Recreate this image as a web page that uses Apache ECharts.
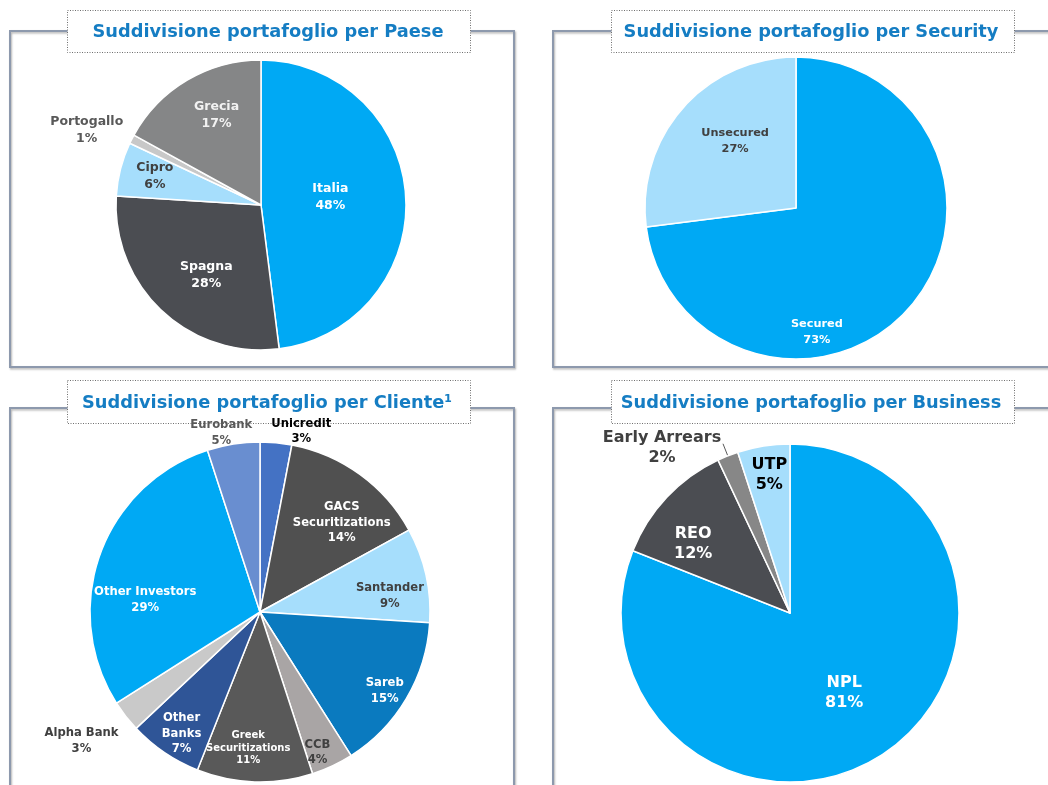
<!DOCTYPE html>
<html>
<head>
<meta charset="utf-8">
<script src="https://cdn.jsdelivr.net/npm/echarts@6/dist/echarts.min.js"></script>
<style>
html,body{margin:0;padding:0;background:#ffffff;}
#chart{width:1048px;height:785px;}
</style>
</head>
<body>
<div id="chart"></div>
<script>
// ---------- DATA ----------
const panelTitles = [
  'Suddivisione portafoglio per Paese',
  'Suddivisione portafoglio per Security',
  'Suddivisione portafoglio per Cliente\u00B9',
  'Suddivisione portafoglio per Business'
];
const paeseNames = ['Italia', 'Spagna', 'Cipro', 'Portogallo', 'Grecia'];
const paeseValues = [48, 28, 6, 1, 17];

const securityNames = ['Secured', 'Unsecured'];
const securityValues = [73, 27];

const clienteNames = ['Unicredit', 'GACS\nSecuritizations', 'Santander', 'Sareb', 'CCB',
  'Greek\nSecuritizations', 'Other\nBanks', 'Alpha Bank', 'Other Investors', 'Eurobank'];
const clienteValues = [3, 14, 9, 15, 4, 11, 7, 3, 29, 5];

const businessNames = ['NPL', 'REO', 'Early Arrears', 'UTP'];
const businessValues = [81, 12, 2, 5];

// ---------- STYLES ----------
const FONT = '"DejaVu Sans", Verdana, sans-serif';
const paeseColors = ['#00a9f4', '#4b4d52', '#a6defc', '#c8c8c8', '#858687'];
const paeseLabelColors = ['#ffffff', '#ffffff', '#404040', '#595959', '#f2f2f2'];
const paeseLabelShift = [[-6, -3], [-3, 15], [-33, -10], [-107, -40], [-6, -25]];

const securityColors = ['#00a9f4', '#a6defc'];
const securityLabelColors = ['#ffffff', '#404040'];
const securityLabelShift = [[-38, 72], [-2, -15]];

const clienteColors = ['#4472c4', '#505050', '#a6defc', '#0a7abf', '#a9a5a5',
  '#595959', '#2f5597', '#c9c9c9', '#00a9f4', '#698ed0'];
const clienteLabelColors = ['#000000', '#ffffff', '#404040', '#ffffff', '#404040',
  '#ffffff', '#ffffff', '#404040', '#ffffff', '#595959'];
const clienteLabelShift = [[33, -93], [30, -18], [44, 3], [49, 34], [20, 61],
  [-9, 48], [-29, 49], [-109, 75], [-32, 18], [-25, -92]];

const businessColors = ['#00a9f4', '#4b4d52', '#878787', '#a6defc'];
const businessLabelColors = ['#ffffff', '#ffffff', '#404040', '#000000'];
const businessLabelShift = [[5, 7], [-33, -9], [0, 0], [-7, -52]];

function buildData(names, values, colors, labelColors, extra) {
  return names.map((n, i) => {
    const item = {
      name: n,
      value: values[i],
      itemStyle: { color: colors[i] },
      label: { color: labelColors[i] }
    };
    if (extra && extra[i]) Object.assign(item.label, extra[i]);
    return item;
  });
}

function shiftLayout(shifts) {
  return function (p) {
    const s = shifts[p.dataIndex];
    return { dx: s[0], dy: s[1] };
  };
}

const baseSeries = {
  type: 'pie',
  startAngle: 90,
  clockwise: true,
  avoidLabelOverlap: false,
  animation: false,
  silent: true,
  itemStyle: { borderColor: '#ffffff', borderWidth: 1.5 },
  labelLine: { show: false },
  emphasis: { disabled: true }
};

const clienteExtra = [];
clienteExtra[5] = { fontSize: 10, lineHeight: 12.5 };

const businessData = buildData(businessNames, businessValues, businessColors, businessLabelColors);
businessData[2].label = {
  position: 'outside',
  formatter: '{a|{b}}\n{a|{c}%}',
  distanceToLabelLine: 0,
  padding: [8, 0, 0, 0],
  rich: {
    a: { width: 122, align: 'center', fontSize: 16, fontWeight: 'bold',
         fontFamily: FONT, color: '#404040', lineHeight: 20 }
  }
};
businessData[2].labelLine = { show: true, length: 13, length2: 0,
  lineStyle: { color: '#595959', width: 1 } };

const frameStyle = { fill: null, stroke: '#8d99ad', lineWidth: 2,
  shadowColor: 'rgba(0,0,0,0.3)', shadowBlur: 2, shadowOffsetX: 1, shadowOffsetY: 1.5 };
const boxStyle = { fill: '#ffffff', stroke: '#6f6f6f', lineWidth: 1, lineDash: [1, 1.5] };

const option = {
  backgroundColor: '#ffffff',
  title: [
    { text: panelTitles[0], left: 268, top: 23 },
    { text: panelTitles[1], left: 811, top: 23 },
    { text: panelTitles[2], left: 267, top: 394 },
    { text: panelTitles[3], left: 811, top: 394 }
  ].map(t => Object.assign(t, {
    textAlign: 'center', padding: 0, z: 10,
    textStyle: { fontFamily: FONT, fontSize: 17.8, fontWeight: 'bold', color: '#157dc3' }
  })),
  graphic: [
    { type: 'rect', z: 0, shape: { x: 10, y: 31, width: 504, height: 336 }, style: frameStyle },
    { type: 'rect', z: 0, shape: { x: 553, y: 31, width: 520, height: 336 }, style: frameStyle },
    { type: 'rect', z: 0, shape: { x: 10, y: 408, width: 504, height: 420 }, style: frameStyle },
    { type: 'rect', z: 0, shape: { x: 553, y: 408, width: 520, height: 420 }, style: frameStyle },
    { type: 'rect', z: 1, shape: { x: 67.5, y: 10.5, width: 403, height: 42 }, style: boxStyle },
    { type: 'rect', z: 1, shape: { x: 611.5, y: 10.5, width: 403, height: 42 }, style: boxStyle },
    { type: 'rect', z: 1, shape: { x: 67.5, y: 380.5, width: 403, height: 43 }, style: boxStyle },
    { type: 'rect', z: 1, shape: { x: 611.5, y: 380.5, width: 403, height: 43 }, style: boxStyle }
  ],
  series: [
    Object.assign({}, baseSeries, {
      name: 'Paese', center: [261, 205], radius: 145, z: 2,
      label: { show: true, position: 'inside', formatter: '{b}\n{c}%',
               fontFamily: FONT, fontSize: 12.5, fontWeight: 'bold', lineHeight: 17 },
      labelLayout: shiftLayout(paeseLabelShift),
      data: buildData(paeseNames, paeseValues, paeseColors, paeseLabelColors)
    }),
    Object.assign({}, baseSeries, {
      name: 'Security', center: [796, 208], radius: 151, z: 2,
      label: { show: true, position: 'inside', formatter: '{b}\n{c}%',
               fontFamily: FONT, fontSize: 11.3, fontWeight: 'bold', lineHeight: 15.5 },
      labelLayout: shiftLayout(securityLabelShift),
      data: buildData(securityNames, securityValues, securityColors, securityLabelColors)
    }),
    Object.assign({}, baseSeries, {
      name: 'Cliente', center: [260, 612], radius: 170, z: 2,
      label: { show: true, position: 'inside', formatter: '{b}\n{c}%',
               fontFamily: FONT, fontSize: 11.6, fontWeight: 'bold', lineHeight: 15.5 },
      labelLayout: shiftLayout(clienteLabelShift),
      data: buildData(clienteNames, clienteValues, clienteColors, clienteLabelColors, clienteExtra)
    }),
    Object.assign({}, baseSeries, {
      name: 'Business', center: [790, 613], radius: 169, z: 2,
      label: { show: true, position: 'inside', formatter: '{b}\n{c}%',
               fontFamily: FONT, fontSize: 16, fontWeight: 'bold', lineHeight: 20 },
      labelLayout: shiftLayout(businessLabelShift),
      data: businessData
    })
  ]
};

const chart = echarts.init(document.getElementById('chart'), null, { renderer: 'canvas' });
chart.setOption(option);
</script>
</body>
</html>
